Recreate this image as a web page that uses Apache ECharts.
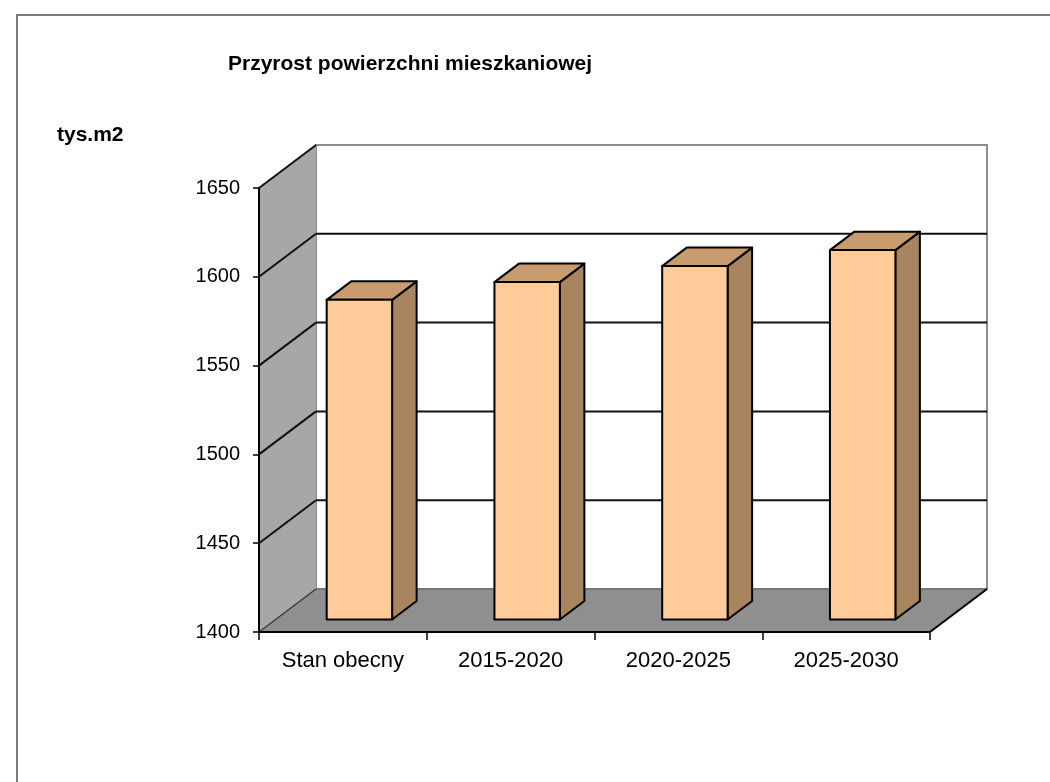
<!DOCTYPE html>
<html>
<head>
<meta charset="utf-8">
<title>Przyrost powierzchni mieszkaniowej</title>
<script src="https://cdn.jsdelivr.net/npm/echarts@6/dist/echarts.min.js"></script>
<style>
  html, body { margin: 0; padding: 0; background: #ffffff; }
  #chart { width: 1050px; height: 782px; }
</style>
</head>
<body>
<div id="chart"></div>
<script>
// Categories and values (tys. m2)
const categories = ['Stan obecny', '2015-2020', '2020-2025', '2025-2030'];
const values = [1580, 1590, 1599, 1608];
const yTicks = [1400, 1450, 1500, 1550, 1600, 1650];

const yMin = 1400, yMax = 1650, yStep = 50;

// Perspective depth of the box and bar placement within it
const DX = 57, DY = 43;
const Z0 = 0.29, Z1 = 0.72, BAR_W = 0.39;

const chart = echarts.init(document.getElementById('chart'));

// Walls, floor and gridlines of the 3D box
function renderFrame(params, api) {
  const cs = params.coordSys;
  const x0 = cs.x, x1 = cs.x + cs.width;
  const yb = api.coord([0, yMin])[1];
  const yt = api.coord([0, yMax])[1];
  const kids = [];
  // back wall
  kids.push({ type: 'rect', shape: { x: x0 + DX, y: yt - DY, width: x1 - x0, height: yb - yt },
    style: { fill: '#ffffff', stroke: '#8c8c8c', lineWidth: 2 } });
  // left wall
  kids.push({ type: 'polygon', shape: { points: [[x0, yb], [x0, yt], [x0 + DX, yt - DY], [x0 + DX, yb - DY]] },
    style: { fill: '#a7a7a7' } });
  // floor
  kids.push({ type: 'polygon', shape: { points: [[x0, yb], [x1, yb], [x1 + DX, yb - DY], [x0 + DX, yb - DY]] },
    style: { fill: '#8f8f8f' } });
  // floor back edge
  kids.push({ type: 'line', shape: { x1: x0 + DX, y1: yb - DY, x2: x1 + DX, y2: yb - DY },
    style: { stroke: '#6e6e6e', lineWidth: 1.5 } });
  // floor / left wall seam and floor right edge
  kids.push({ type: 'line', shape: { x1: x0, y1: yb, x2: x0 + DX, y2: yb - DY },
    style: { stroke: '#333333', lineWidth: 1.2 } });
  kids.push({ type: 'line', shape: { x1: x1, y1: yb, x2: x1 + DX, y2: yb - DY },
    style: { stroke: '#000000', lineWidth: 2 } });
  // gridlines across left wall and back wall
  yTicks.forEach(function (v) {
    if (v === yMin) return;
    const y = api.coord([0, v])[1];
    kids.push({ type: 'line', shape: { x1: x0, y1: y, x2: x0 + DX, y2: y - DY },
      style: { stroke: '#111111', lineWidth: 2 } });
    if (v !== yMax) {
      kids.push({ type: 'line', shape: { x1: x0 + DX, y1: y - DY, x2: x1 + DX, y2: y - DY },
        style: { stroke: '#111111', lineWidth: 2 } });
    }
  });
  return { type: 'group', children: kids };
}

// 3D bars: front face, top and right side
function renderBar(params, api) {
  const i = api.value(0), v = api.value(1);
  const top = api.coord([i, v]);
  const base = api.coord([i, yMin]);
  const band = api.size([1, 0])[0];
  const w = band * BAR_W;
  const ox0 = DX * Z0, oy0 = DY * Z0;
  const dx = DX * (Z1 - Z0), dy = DY * (Z1 - Z0);
  const fx = top[0] - w / 2 + ox0;
  const fTop = top[1] - oy0, fBot = base[1] - oy0;
  const line = { stroke: '#000000', lineWidth: 2, lineJoin: 'round' };
  return {
    type: 'group',
    children: [
      { type: 'polygon', shape: { points: [[fx + w, fTop], [fx + w + dx, fTop - dy], [fx + w + dx, fBot - dy], [fx + w, fBot]] },
        style: Object.assign({ fill: '#a8845f' }, line) },
      { type: 'polygon', shape: { points: [[fx, fTop], [fx + w, fTop], [fx + w + dx, fTop - dy], [fx + dx, fTop - dy]] },
        style: Object.assign({ fill: '#c99c6f' }, line) },
      { type: 'rect', shape: { x: fx, y: fTop, width: w, height: fBot - fTop },
        style: Object.assign({ fill: '#ffcc99' }, line) }
    ]
  };
}

const font = 'Liberation Sans, Arial, sans-serif';

chart.setOption({
  animation: false,
  backgroundColor: '#ffffff',
  title: [
    { text: 'Przyrost powierzchni mieszkaniowej', left: 223, top: 49,
      textStyle: { fontFamily: font, fontSize: 21, fontWeight: 'bold', color: '#000' } },
    { text: 'tys.m2', left: 52, top: 120,
      textStyle: { fontFamily: font, fontSize: 21, fontWeight: 'bold', color: '#000' } }
  ],
  graphic: [
    { type: 'polyline', shape: { points: [[17, 782], [17, 15], [1050, 15]] },
      style: { stroke: '#7a7a7a', lineWidth: 2, fill: null }, silent: true }
  ],
  grid: { left: 259, right: 120, top: 188, bottom: 150 },
  xAxis: {
    type: 'category',
    data: categories,
    boundaryGap: true,
    z: 10,
    axisLine: { show: true, lineStyle: { color: '#000', width: 2 } },
    axisTick: { show: true, length: 8, lineStyle: { color: '#000', width: 1.5 } },
    axisLabel: { fontFamily: font, fontSize: 22, color: '#000', margin: 18 },
    splitLine: { show: false }
  },
  yAxis: {
    type: 'value',
    min: yMin, max: yMax, interval: yStep,
    z: 10,
    axisLine: { show: true, lineStyle: { color: '#000', width: 2 } },
    axisTick: { show: true, length: 6, lineStyle: { color: '#000', width: 1.5 } },
    axisLabel: { fontFamily: font, fontSize: 20, color: '#000', margin: 19,
      formatter: function (v) { return String(v); } },
    splitLine: { show: false }
  },
  series: [
    { type: 'custom', renderItem: renderFrame, data: [[0, yMin]], clip: false, silent: true, z: 1 },
    { type: 'custom', renderItem: renderBar, data: values.map(function (v, i) { return [i, v]; }),
      clip: false, silent: true, z: 2 }
  ]
});
</script>
</body>
</html>
